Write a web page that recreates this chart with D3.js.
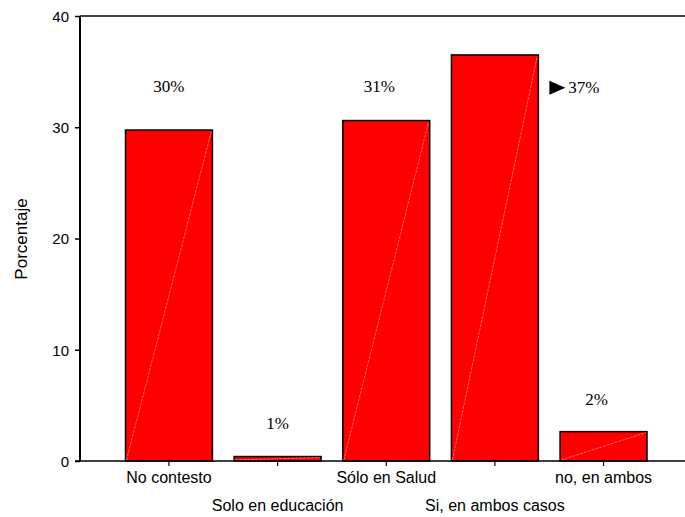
<!DOCTYPE html>
<html><head><meta charset="utf-8">
<script src="https://cdn.jsdelivr.net/npm/d3@7"></script>
<style>body{margin:0;background:#fff}svg{display:block}</style>
</head><body>
<script>
const categories = ["No contesto","Solo en educación","Sólo en Salud","Si, en ambos casos","no, en ambos"];
const values = [29.75, 0.4, 30.6, 36.5, 2.64];
const pctLabels = ["30%","1%","31%","37%","2%"];
const yTicks = [0,10,20,30,40];

const W=685,H=517;
const svg=d3.select("body").append("svg").attr("width",W).attr("height",H);
const x=d3.scaleBand().domain(categories).range([125.5,647]).paddingInner(0.2).paddingOuter(0);
const y=d3.scaleLinear().domain([0,40]).range([461,16]);

// frame top line
svg.append("line").attr("x1",80).attr("x2",685).attr("y1",y(40)).attr("y2",y(40)).attr("stroke","#000").attr("stroke-width",1.5);

// bars
const g=svg.append("g");
categories.forEach((c,i)=>{
  const x0=x(c), bw=x.bandwidth(), yt=y(values[i]);
  g.append("rect").attr("x",x0).attr("y",yt).attr("width",bw).attr("height",y(0)-yt)
    .attr("fill","#ff0000").attr("stroke","#000").attr("stroke-width",1.5);
  g.append("line").attr("x1",x0+1).attr("y1",y(0)-1).attr("x2",x0+bw-1).attr("y2",yt+1)
    .attr("stroke","#ff8080").attr("stroke-width",0.8).attr("stroke-dasharray","3,1");
});

// y axis
const ya=svg.append("g").attr("transform","translate(80,0)")
  .call(d3.axisLeft(y).tickValues(yTicks).tickSize(5).tickPadding(6));
ya.select(".domain").attr("stroke-width",2).attr("d",`M0,${y(40)}V${y(0)}`);
ya.selectAll(".tick line").attr("stroke-width",1.5);
ya.selectAll("text").attr("font-family","Liberation Sans, Arial, sans-serif").attr("font-size",15).attr("fill","#000").attr("dy","0.35em");

// x axis
const xa=svg.append("g").attr("transform",`translate(0,${y(0)})`)
  .call(d3.axisBottom(x).tickSize(5).tickPadding(0));
xa.select(".domain").attr("stroke-width",1.5).attr("d","M75,0H685");
xa.selectAll(".tick line").attr("stroke-width",1.2);
xa.selectAll(".tick text").attr("font-family","Liberation Sans, Arial, sans-serif").attr("font-size",16).attr("fill","#000")
  .attr("dy",null).attr("y",(d,i)=> i%2===0 ? 22 : 50);

// y label
svg.append("text").attr("transform","translate(27,239) rotate(-90)").attr("text-anchor","middle")
  .attr("font-family","Liberation Sans, Arial, sans-serif").attr("font-size",17).text("Porcentaje");

// value labels
const labelPos=[{dx:0,yv:33.2},{dx:0,yv:2.9},{dx:-7,yv:33.2},{dx:0,yv:33.1},{dx:-7,yv:5.0}];
const serif="'Liberation Serif', 'Times New Roman', serif";
categories.forEach((c,i)=>{
  const cx=x(c)+x.bandwidth()/2;
  if(i===3){
    const tx=x(c)+x.bandwidth()+30;
    const ty=y(labelPos[i].yv);
    svg.append("path").attr("d",`M${tx-19},${ty-12}L${tx-3},${ty-5}L${tx-19},${ty+2}Z`).attr("fill","#000");
    svg.append("text").attr("x",tx).attr("y",ty).attr("font-family",serif)
      .attr("font-size",17).text(pctLabels[i]);
  } else {
    svg.append("text").attr("x",cx+labelPos[i].dx).attr("y",y(labelPos[i].yv)).attr("text-anchor","middle")
      .attr("font-family",serif).attr("font-size",17).text(pctLabels[i]);
  }
});
</script>
</body></html>
